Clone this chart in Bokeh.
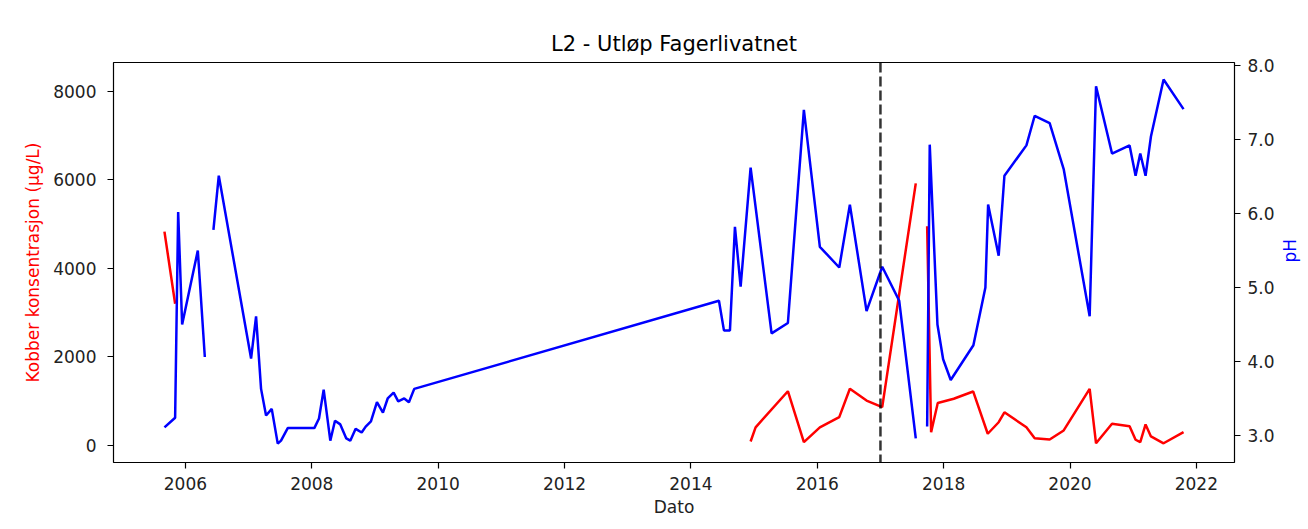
import math
import numpy as np
from bokeh.plotting import figure
from bokeh.models import Range1d, LinearAxis, FixedTicker, Span, ColumnDataSource, PrintfTickFormatter
from bokeh.embed import file_html
from bokeh.resources import INLINE

nan = float("nan")

title_text = "L2 - Utløp Fagerlivatnet"
x_label = "Dato"
cu_label = "Kobber konsentrasjon (µg/L)"
ph_label = "pH"

# Copper concentration (µg/L), decimal year
cu_year = [2005.668, 2005.837, 2010.0, 2014.945, 2015.024, 2015.535, 2015.788, 2016.041,
           2016.348, 2016.516, 2016.780, 2017.028, 2017.559, 2017.65, 2017.739, 2017.802,
           2017.907, 2018.160, 2018.467, 2018.698, 2018.871, 2018.962, 2019.310, 2019.441,
           2019.678, 2019.900, 2020.311, 2020.412, 2020.665, 2020.943, 2021.038, 2021.112,
           2021.196, 2021.281, 2021.481, 2021.797]
cu_value = [4830, 3200, nan, 90, 410, 1225, 75, 410,
            640, 1280, 1015, 865, 5920, nan, 4950, 300,
            960, 1055, 1220, 265, 525, 750, 410, 165,
            135, 340, 1280, 50, 490, 435, 130, 75,
            475, 205, 50, 300]

# pH, decimal year
ph_year = [2005.668, 2005.837, 2005.885, 2005.948, 2006.196, 2006.307, 2006.37, 2006.443,
           2006.528, 2007.039, 2007.118, 2007.197, 2007.276, 2007.366, 2007.461, 2007.513,
           2007.619, 2008.040, 2008.114, 2008.188, 2008.293, 2008.367, 2008.451, 2008.546,
           2008.609, 2008.694, 2008.789, 2008.853, 2008.936, 2009.031, 2009.126, 2009.201,
           2009.295, 2009.368, 2009.463, 2009.537, 2009.621, 2014.444, 2014.523, 2014.618,
           2014.697, 2014.787, 2014.945, 2015.277, 2015.535, 2015.788, 2016.041, 2016.348,
           2016.516, 2016.780, 2017.028, 2017.297, 2017.559, 2017.65, 2017.739, 2017.780,
           2017.902, 2017.992, 2018.112, 2018.471, 2018.661, 2018.704, 2018.871, 2018.962,
           2019.310, 2019.441, 2019.678, 2019.900, 2020.311, 2020.412, 2020.665, 2020.943,
           2021.038, 2021.112, 2021.196, 2021.281, 2021.481, 2021.797]
ph_value = [3.11, 3.24, 6.02, 4.50, 5.50, 4.06, nan, 5.78,
            6.51, 4.04, 4.61, 3.63, 3.27, 3.36, 2.89, 2.93,
            3.10, 3.10, 3.23, 3.62, 2.93, 3.20, 3.15, 2.96,
            2.93, 3.09, 3.04, 3.12, 3.19, 3.45, 3.31, 3.50,
            3.58, 3.46, 3.50, 3.45, 3.63, 4.82, 4.42, 4.42,
            5.82, 5.01, 6.62, 4.38, 4.52, 7.40, 5.55, 5.27,
            6.12, 4.68, 5.28, 4.82, 2.96, nan, 3.12, 6.93,
            4.50, 4.03, 3.75, 4.22, 5.00, 6.12, 5.43, 6.51,
            6.92, 7.32, 7.22, 6.60, 4.61, 7.72, 6.81, 6.92,
            6.51, 6.81, 6.51, 7.04, 7.81, 7.41]

x_ticks = [2006, 2008, 2010, 2012, 2014, 2016, 2018, 2020, 2022]
cu_ticks = [0, 2000, 4000, 6000, 8000]
ph_ticks = [3.0, 4.0, 5.0, 6.0, 7.0, 8.0]
event_year = 2017.0

cu_limits = (-384, 8648)
ph_limits = (2.635, 8.04)

FONT = "DejaVu Sans"

all_years = np.array(ph_year + cu_year, dtype=float)
x0, x1 = np.nanmin(all_years), np.nanmax(all_years)
pad = 0.05 * (x1 - x0)

p = figure(frame_width=1121, frame_height=400, output_backend="svg", toolbar_location=None,
           x_range=Range1d(x0 - pad, x1 + pad), y_range=Range1d(*cu_limits),
           min_border_left=113, min_border_right=66, min_border_top=62, min_border_bottom=59,
           title=title_text)
p.extra_y_ranges = {"ph": Range1d(*ph_limits)}

p.xgrid.visible = False
p.ygrid.visible = False
p.outline_line_color = "black"
p.outline_line_width = 1.2
p.background_fill_color = "white"
p.border_fill_color = "white"

p.title.text_font = FONT
p.title.text_font_size = "21px"
p.title.text_font_style = "normal"
p.title.align = "center"
p.title.text_color = "black"
p.title.standoff = 14

cu_src = ColumnDataSource(dict(x=np.array(cu_year, dtype=float), y=np.array(cu_value, dtype=float)))
ph_src = ColumnDataSource(dict(x=np.array(ph_year, dtype=float), y=np.array(ph_value, dtype=float)))

p.line("x", "y", source=cu_src, line_color="red", line_width=2.5)
p.line("x", "y", source=ph_src, line_color="blue", line_width=2.5, y_range_name="ph")

p.add_layout(Span(location=event_year, dimension="height", line_color="black", line_alpha=0.8,
                  line_width=2.5, line_dash="10 4"))

ph_axis = LinearAxis(y_range_name="ph")
p.add_layout(ph_axis, "right")

p.xaxis[0].ticker = FixedTicker(ticks=x_ticks)
p.xaxis[0].formatter = PrintfTickFormatter(format="%d")
p.yaxis[0].ticker = FixedTicker(ticks=cu_ticks)
p.yaxis[0].formatter = PrintfTickFormatter(format="%d")
ph_axis.ticker = FixedTicker(ticks=ph_ticks)
ph_axis.formatter = PrintfTickFormatter(format="%.1f")

for ax in [p.xaxis[0], p.yaxis[0], ph_axis]:
    ax.axis_line_color = None
    ax.major_tick_out = 6
    ax.major_tick_in = 0
    ax.minor_tick_out = 0
    ax.minor_tick_in = 0
    ax.major_tick_line_color = "black"
    ax.major_tick_line_width = 1.2
    ax.major_label_text_font = FONT
    ax.major_label_text_font_size = "17px"
    ax.major_label_text_color = "#222222"
    ax.axis_label_text_font = FONT
    ax.axis_label_text_font_size = "17px"
    ax.axis_label_text_font_style = "normal"

p.xaxis[0].axis_label = x_label
p.xaxis[0].axis_label_text_color = "#222222"
p.xaxis[0].major_label_standoff = 8
p.xaxis[0].axis_label_standoff = 4

p.yaxis[0].axis_label = cu_label
p.yaxis[0].axis_label_text_color = "red"
p.yaxis[0].major_label_standoff = 11
p.yaxis[0].axis_label_standoff = 7

ph_axis.axis_label = ph_label
ph_axis.axis_label_text_color = "blue"
ph_axis.major_label_standoff = 7
ph_axis.axis_label_standoff = 12
if "axis_label_orientation" in ph_axis.properties():
    ph_axis.axis_label_orientation = math.pi / 2

open("out.html", "w").write(file_html(p, INLINE))
